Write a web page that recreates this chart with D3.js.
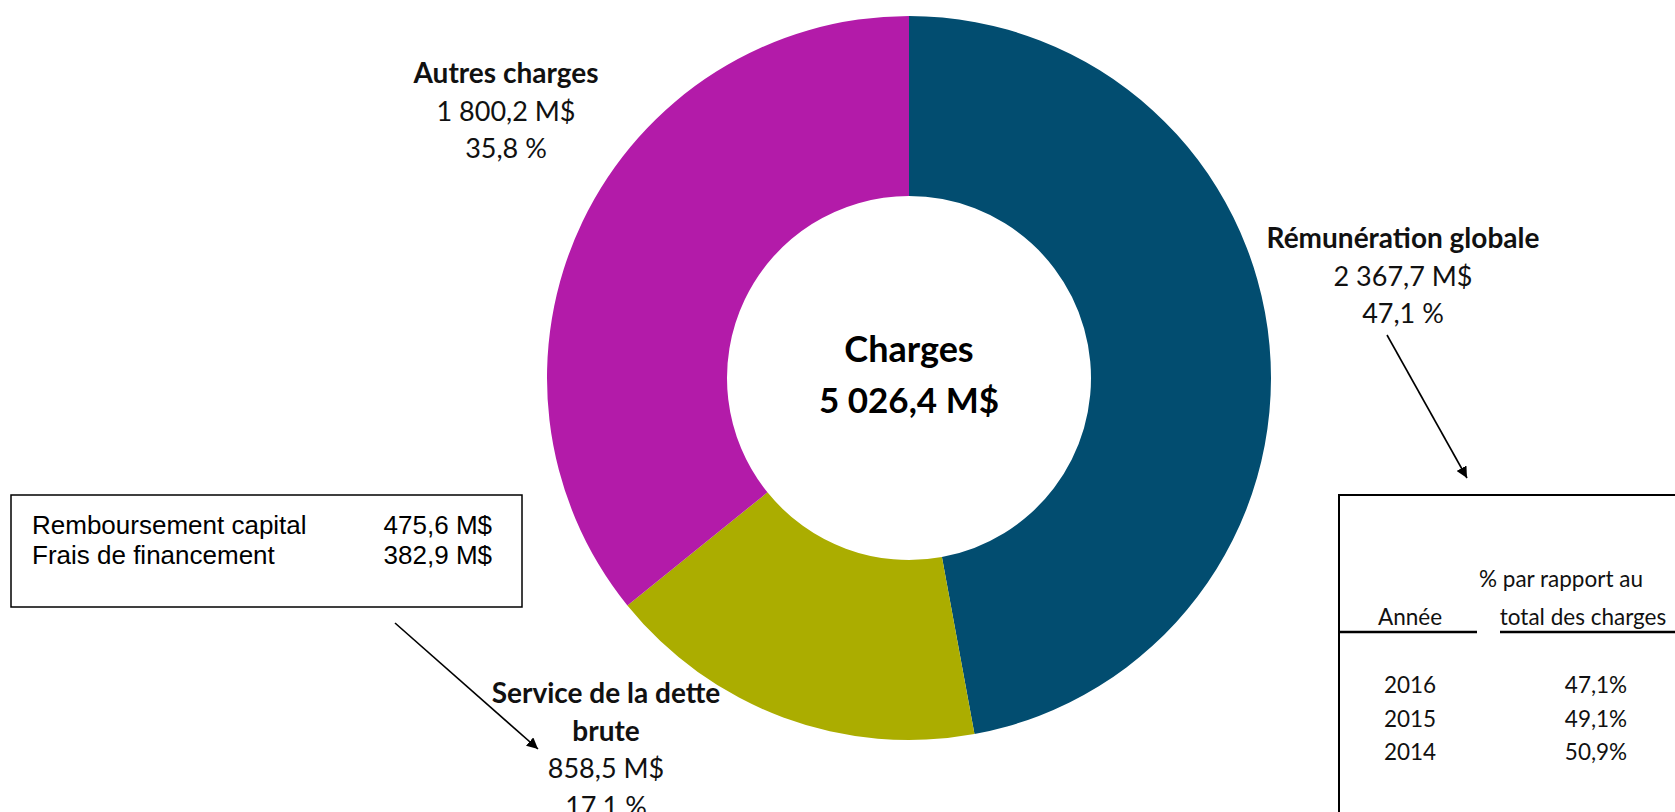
<!DOCTYPE html>
<html>
<head>
<meta charset="utf-8">
<script src="https://cdn.jsdelivr.net/npm/d3@7"></script>
<style>
  body { margin: 0; background: #fff; }
  svg { display: block; }
</style>
</head>
<body>
<div id="chart"></div>
<script>
// data
var categories = ["Rémunération globale", "Service de la dette brute", "Autres charges"];
var amounts = [2367.7, 858.5, 1800.2];
var shares = [47.1, 17.1, 35.8];
var totalLabel = "Charges";
var totalAmount = 5026.4;

var detteItems = ["Remboursement capital", "Frais de financement"];
var detteAmounts = [475.6, 382.9];

var years = ["2016", "2015", "2014"];
var yearShares = [47.1, 49.1, 50.9];
var tableHeaders = ["Année", "% par rapport au|total des charges"];

function main()
{
    var width = 1675, height = 812;
    var cx = 909, cy = 378;
    var outerR = 362, innerR = 182;

    // french number formats
    var fr = d3.formatLocale({decimal: ",", thousands: "\u00a0", grouping: [3], currency: ["", " M$"]});
    var fmtM = fr.format(",.1f");
    var fmtP = fr.format(".1f");

    var color = d3.scaleOrdinal().domain(categories).range(["#024d70", "#abad00", "#b31ba9"]);

    var svg = d3.select("#chart").append("svg")
        .attr("width", width)
        .attr("height", height);

    var defs = svg.append("defs");
    defs.append("marker")
        .attr("id", "head")
        .attr("viewBox", "0 0 10 10")
        .attr("refX", 10).attr("refY", 5)
        .attr("markerWidth", 7).attr("markerHeight", 7)
        .attr("markerUnits", "strokeWidth")
        .attr("orient", "auto")
        .append("path").attr("d", "M0,0L10,5L0,10Z").attr("fill", "#000");

    var pie = d3.pie().sort(null).value(function(d) { return d; });
    var arc = d3.arc().innerRadius(innerR).outerRadius(outerR);

    var g = svg.append("g").attr("transform", "translate(" + cx + "," + cy + ")");
    g.selectAll("path.slice")
        .data(pie(amounts))
        .enter().append("path")
        .attr("class", "slice")
        .attr("d", arc)
        .attr("fill", function(d, i) { return color(categories[i]); });

    // centre text
    var font = "Lato, 'Open Sans', sans-serif";
    g.append("text").attr("text-anchor", "middle").attr("y", -16)
        .style("font-family", font).style("font-weight", "bold").style("font-size", "36px")
        .text(totalLabel);
    g.append("text").attr("text-anchor", "middle").attr("y", 35)
        .style("font-family", font).style("font-weight", "bold").style("font-size", "35px")
        .text(fmtM(totalAmount) + " M$");

    // slice labels (position of each label block, first baseline)
    var labelPos = [[1403, 248, ["Rémunération globale"]],
                    [606, 703, ["Service de la dette", "brute"]],
                    [506, 83, ["Autres charges"]]];
    labelPos.forEach(function(p, i) {
        var t = svg.append("text").attr("text-anchor", "middle")
            .style("font-family", font).style("fill", "#111");
        var lines = p[2].map(function(s) { return {s: s, b: true}; })
            .concat([{s: fmtM(amounts[i]) + " M$", b: false}, {s: fmtP(shares[i]) + " %", b: false}]);
        lines.forEach(function(l, k) {
            t.append("tspan").attr("x", p[0]).attr("y", p[1] + k * 37.5)
                .style("font-weight", l.b ? "bold" : "normal")
                .style("font-size", l.b ? "28px" : "27px")
                .text(l.s);
        });
    });

    // left box: detail of the debt service
    svg.append("rect").attr("x", 11).attr("y", 495).attr("width", 511).attr("height", 112)
        .attr("fill", "none").attr("stroke", "#000").attr("stroke-width", 1.5);
    detteItems.forEach(function(s, i) {
        svg.append("text").attr("x", 32).attr("y", 534 + i * 30)
            .style("font-family", "'Liberation Sans', Arial, sans-serif").style("font-size", "26px")
            .text(s);
        svg.append("text").attr("x", 492).attr("y", 534 + i * 30).attr("text-anchor", "end")
            .style("font-family", "'Liberation Sans', Arial, sans-serif").style("font-size", "26px")
            .text(fmtP(detteAmounts[i]) + " M$");
    });

    // right box: share of remuneration over years
    svg.append("path").attr("d", "M1339,812V495H1680")
        .attr("fill", "none").attr("stroke", "#000").attr("stroke-width", 2);
    var tf = function(sel) { return sel.style("font-family", font).style("font-size", "22.5px").style("fill", "#111"); };
    tf(svg.append("text").attr("x", 1410).attr("y", 625).attr("text-anchor", "middle").text(tableHeaders[0]));
    var hx = [1561, 1583];
    tableHeaders[1].split("|").forEach(function(s, k) {
        tf(svg.append("text").attr("x", hx[k]).attr("y", 587 + k * 38).attr("text-anchor", "middle").text(s));
    });
    svg.append("line").attr("x1", 1339).attr("x2", 1477).attr("y1", 632).attr("y2", 632)
        .attr("stroke", "#000").attr("stroke-width", 2.5);
    svg.append("line").attr("x1", 1500).attr("x2", 1680).attr("y1", 632).attr("y2", 632)
        .attr("stroke", "#000").attr("stroke-width", 2.5);
    years.forEach(function(y, i) {
        tf(svg.append("text").attr("x", 1410).attr("y", 693 + i * 33.5).attr("text-anchor", "middle").text(y));
        tf(svg.append("text").attr("x", 1596).attr("y", 693 + i * 33.5).attr("text-anchor", "middle").text(fmtP(yearShares[i]) + "%"));
    });

    // arrows
    svg.append("line").attr("x1", 395).attr("y1", 623).attr("x2", 538).attr("y2", 749)
        .attr("stroke", "#000").attr("stroke-width", 1.6).attr("marker-end", "url(#head)");
    svg.append("line").attr("x1", 1387).attr("y1", 335).attr("x2", 1467).attr("y2", 478)
        .attr("stroke", "#000").attr("stroke-width", 1.6).attr("marker-end", "url(#head)");
}
main();
</script>
</body>
</html>
